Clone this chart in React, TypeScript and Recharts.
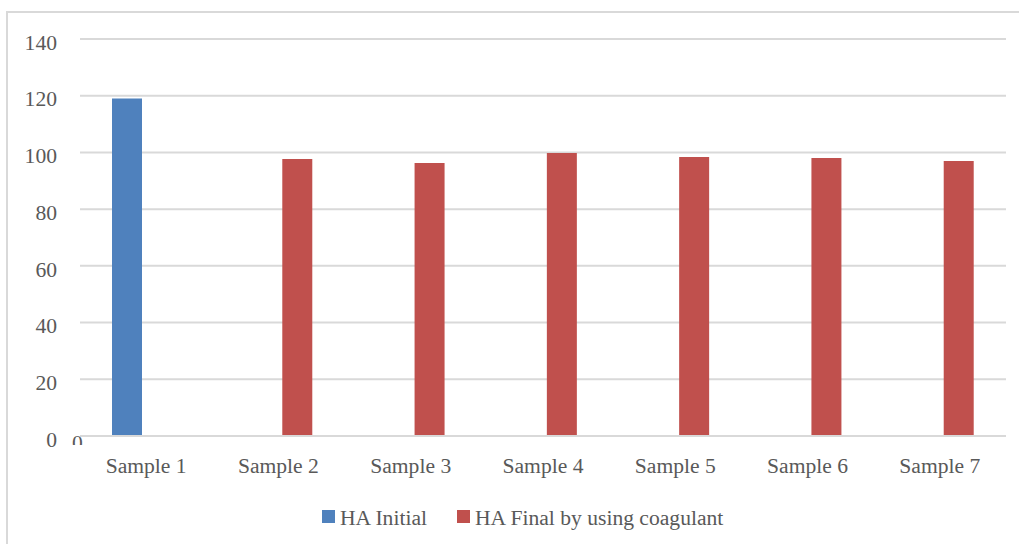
import React from "react";
import { Bar, BarChart, CartesianGrid, XAxis, YAxis } from "recharts";

const samples = [
  "Sample 1",
  "Sample 2",
  "Sample 3",
  "Sample 4",
  "Sample 5",
  "Sample 6",
  "Sample 7",
];
const haInitial = [119, 0, 0, 0, 0, 0, 0];
const haFinal = [0, 97.7, 96.3, 99.8, 98.4, 98, 97];
const yTicks = [0, 20, 40, 60, 80, 100, 120, 140];

const BLUE = "#4f81bd";
const RED = "#c0504d";
const TEXT = "#595959";
const FONT = "'Times New Roman', 'Liberation Serif', 'DejaVu Serif', serif";
const FONT_SIZE = 21.6;

const data = samples.map((name, i) => ({
  name,
  initial: haInitial[i] || null,
  final: haFinal[i] || null,
}));

const legendItems = [
  { label: "HA Initial", color: BLUE, left: 322 },
  { label: "HA Final by using coagulant", color: RED, left: 457 },
];

export default function App() {
  return (
    <div
      style={{
        position: "fixed",
        left: 0,
        top: 0,
        width: 1019,
        height: 544,
        overflow: "hidden",
        background: "#fff",
        fontFamily: FONT,
      }}
    >
      {/* outer chart frame */}
      <div
        style={{
          position: "absolute",
          left: 6,
          top: 11,
          width: 1040,
          height: 560,
          border: "2px solid #d9d9d9",
        }}
      />
      <div style={{ position: "absolute", left: 0, top: 0 }}>
        <BarChart
          width={1019}
          height={544}
          data={data}
          margin={{ top: 39, right: 13, bottom: 58, left: 0 }}
          barSize={30}
          barGap={8}
        >
          <CartesianGrid
            vertical={false}
            stroke="#d9d9d9"
            strokeWidth={2}
          />
          <XAxis
            dataKey="name"
            height={50}
            tickLine={false}
            axisLine={{ stroke: "#d9d9d9", strokeWidth: 2 }}
            tickSize={0}
            tickMargin={22}
            tick={{ fill: TEXT, fontSize: FONT_SIZE, fontFamily: FONT }}
          />
          <YAxis
            width={80}
            domain={[0, 140]}
            ticks={yTicks}
            axisLine={false}
            tickLine={false}
            tickSize={0}
            tickMargin={23}
            tick={{ fill: TEXT, fontSize: FONT_SIZE, fontFamily: FONT, dy: 3 }}
          />
          <Bar dataKey="initial" fill={BLUE} isAnimationActive={false} />
          <Bar dataKey="final" fill={RED} isAnimationActive={false} />
        </BarChart>
      </div>
      {/* zero value label of the first final bar, mostly hidden by the baseline */}
      <div
        style={{
          position: "absolute",
          left: 72,
          top: 436,
          height: 9,
          overflow: "hidden",
          color: TEXT,
          fontSize: FONT_SIZE,
          lineHeight: "21px",
        }}
      >
        <div style={{ marginTop: -3 }}>0</div>
      </div>
      {legendItems.map((item) => (
        <div
          key={item.label}
          style={{
            position: "absolute",
            left: item.left,
            top: 506,
            display: "flex",
            alignItems: "center",
            color: TEXT,
            fontSize: FONT_SIZE,
            lineHeight: "24px",
            whiteSpace: "nowrap",
          }}
        >
          <span
            style={{
              width: 13,
              height: 13,
              background: item.color,
              marginRight: 5,
              marginTop: -4,
            }}
          />
          {item.label}
        </div>
      ))}
    </div>
  );
}
